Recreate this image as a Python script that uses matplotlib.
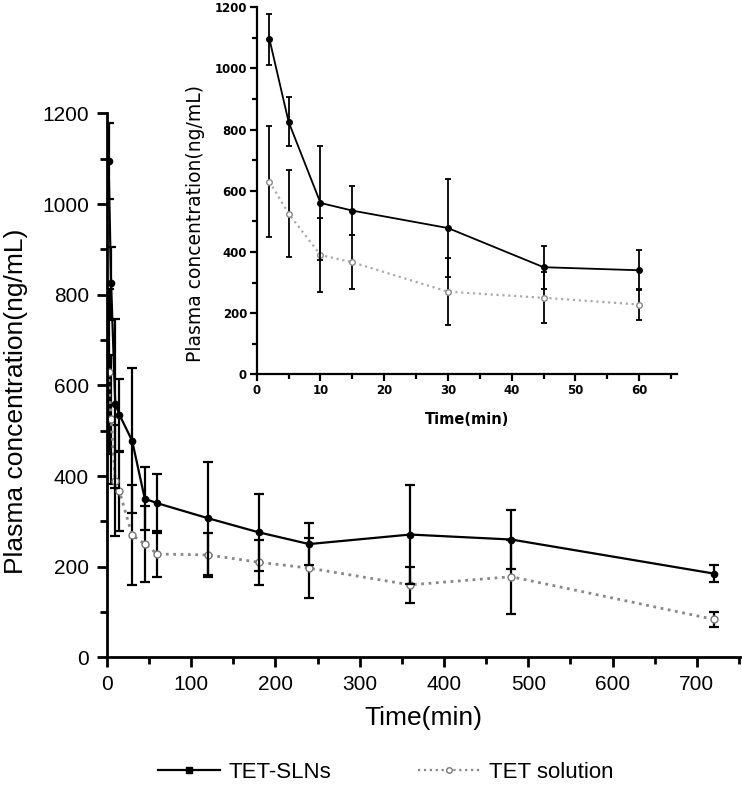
import numpy as np
import matplotlib
matplotlib.use('Agg')
import matplotlib.pyplot as plt
from matplotlib.lines import Line2D

# sampling times (min) and plasma concentrations (ng/mL), mean and SD
time = np.array([2, 5, 10, 15, 30, 45, 60, 120, 180, 240, 360, 480, 720])
sln_mean = np.array([1095, 825, 560, 535, 478, 350, 340, 307, 276, 250, 271, 260, 185])
sln_sd = np.array([83, 80, 187, 80, 160, 70, 65, 125, 85, 47, 110, 66, 18])
sol_mean = np.array([630, 525, 390, 366, 270, 250, 228, 226, 210, 197, 160, 178, 84])
sol_sd = np.array([182, 142, 122, 88, 110, 83, 50, 48, 50, 66, 40, 82, 17])

labels = ['TET-SLNs', 'TET solution']
inset_n = 7  # first hour shown in the inset

fig = plt.figure(figsize=(7.42, 7.93), dpi=100)
main_font = 'Liberation Sans'

# ---- main plot ----
ax = fig.add_axes([0.144, 0.171, 0.853, 0.686])
ax.errorbar(time, sol_mean, yerr=sol_sd, color='#888888', ls=':', lw=2,
            marker='o', ms=5, mfc='white', mec='#777777', ecolor='black',
            elinewidth=1.6, capsize=3.5, capthick=1.6, zorder=2)
ax.errorbar(time, sln_mean, yerr=sln_sd, color='black', ls='-', lw=1.6,
            marker='o', ms=4.5, mfc='black', mec='black', ecolor='black',
            elinewidth=1.6, capsize=3.5, capthick=1.6, zorder=3)
ax.set_xlim(0, 751)
ax.set_ylim(0, 1200)
ax.set_xticks(np.arange(0, 701, 100))
ax.set_xticks(np.arange(50, 751, 100), minor=True)
ax.set_yticks(np.arange(0, 1201, 200))
ax.set_yticks(np.arange(100, 1201, 200), minor=True)
for s in ['top', 'right']:
    ax.spines[s].set_visible(False)
for s in ['left', 'bottom']:
    ax.spines[s].set_linewidth(2)
ax.tick_params(which='major', length=7, width=2, direction='out', pad=6)
ax.tick_params(which='minor', length=5, width=2, direction='out')
for lab in ax.get_xticklabels() + ax.get_yticklabels():
    lab.set_fontfamily(main_font)
    lab.set_fontsize(15)
ax.set_xlabel('Time(min)', fontsize=19, family=main_font, labelpad=8)
ax.set_ylabel('Plasma concentration(ng/mL)', fontsize=19, family=main_font)
ax.yaxis.set_label_coords(-0.125, 0.47)

# ---- inset (0-60 min) ----
ins = fig.add_axes([0.346, 0.528, 0.567, 0.463])
ins.patch.set_alpha(0)
ins.errorbar(time[:inset_n], sol_mean[:inset_n], yerr=sol_sd[:inset_n], color='#aaaaaa',
             ls=':', lw=1.6, marker='o', ms=4, mfc='white', mec='#888888',
             ecolor='black', elinewidth=1.3, capsize=2.5, capthick=1.3, zorder=2)
ins.errorbar(time[:inset_n], sln_mean[:inset_n], yerr=sln_sd[:inset_n], color='black',
             ls='-', lw=1.3, marker='o', ms=4, mfc='black', mec='black',
             ecolor='black', elinewidth=1.3, capsize=2.5, capthick=1.3, zorder=3)
ins.set_xlim(0, 66)
ins.set_ylim(0, 1200)
ins.set_xticks(np.arange(0, 61, 10))
ins.set_xticks(np.arange(5, 66, 10), minor=True)
ins.set_yticks(np.arange(0, 1201, 200))
ins.set_yticks(np.arange(100, 1201, 200), minor=True)
for s in ['top', 'right']:
    ins.spines[s].set_visible(False)
for s in ['left', 'bottom']:
    ins.spines[s].set_linewidth(1.6)
ins.tick_params(which='major', length=5, width=1.6, direction='out', pad=2, labelsize=8.5)
ins.tick_params(which='minor', length=3.5, width=1.6, direction='out')
for lab in ins.get_xticklabels() + ins.get_yticklabels():
    lab.set_fontweight('bold')
ins.set_xlabel('Time(min)', fontsize=10.5, fontweight='bold', labelpad=11)
ins.set_ylabel('Plasma concentration(ng/mL)', fontsize=13.5)
ins.yaxis.set_label_coords(-0.122, 0.41)

# ---- legend ----
handles = [
    Line2D([], [], color='black', ls='-', lw=1.6, marker='s', ms=4, mfc='black'),
    Line2D([], [], color='#888888', ls=':', lw=1.6, marker='o', ms=4, mfc='white', mec='#777777'),
]
leg = fig.legend(handles, labels, loc='center', bbox_to_anchor=(0.52, 0.026), ncol=2,
                 frameon=False, handlelength=2.8, handletextpad=0.4, columnspacing=3.9,
                 prop={'family': main_font, 'size': 16})

fig.savefig('out.png', dpi=100, facecolor='white')
